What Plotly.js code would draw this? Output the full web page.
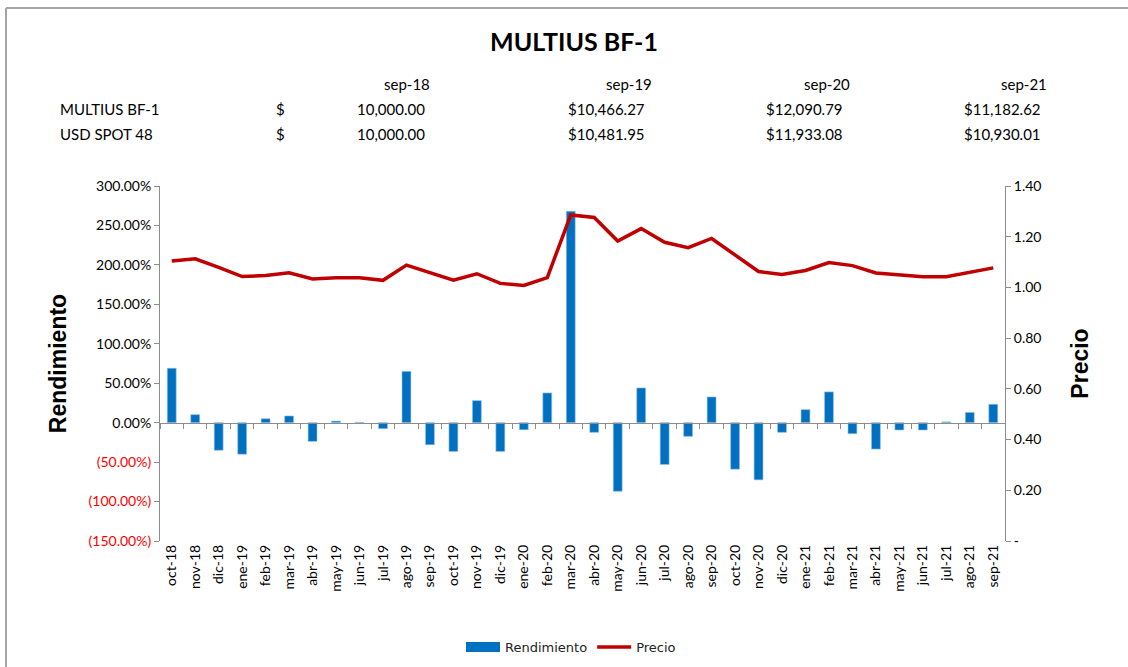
<!DOCTYPE html>
<html>
<head>
<meta charset="utf-8">
<script src="https://cdn.plot.ly/plotly-3.0.1.min.js"></script>
<style>html,body{margin:0;padding:0;background:#fff;}#chart{width:1128px;height:667px;}</style>
</head>
<body>
<div id="chart"></div>
<script>
// ---- Data ----
const months = ['oct-18','nov-18','dic-18','ene-19','feb-19','mar-19','abr-19','may-19','jun-19','jul-19','ago-19','sep-19',
  'oct-19','nov-19','dic-19','ene-20','feb-20','mar-20','abr-20','may-20','jun-20','jul-20','ago-20','sep-20',
  'oct-20','nov-20','dic-20','ene-21','feb-21','mar-21','abr-21','may-21','jun-21','jul-21','ago-21','sep-21'];
// Rendimiento in percent
const rendimiento = [69, 10.2, -35, -40, 5, 8.5, -23.7, 2, 0.5, -7.6, 65, -28,
  -36.5, 28, -36.5, -9, 37.7, 268, -12.3, -87, 44, -53, -17.4, 32.6,
  -59, -72.5, -12.3, 16.5, 39, -14, -33.5, -9.3, -9.3, 1, 13, 23.3];
const precio = [1.104, 1.113, 1.079, 1.043, 1.047, 1.058, 1.033, 1.038, 1.038, 1.028, 1.088, 1.059,
  1.029, 1.054, 1.016, 1.008, 1.039, 1.286, 1.276, 1.183, 1.232, 1.178, 1.157, 1.193,
  1.129, 1.063, 1.051, 1.067, 1.098, 1.086, 1.057, 1.048, 1.042, 1.042, 1.058, 1.077];

const tableDates = ['sep-18','sep-19','sep-20','sep-21'];
const tableNames = ['MULTIUS BF-1','USD SPOT 48'];
const multiusValues = [10000.00, 10466.27, 12090.79, 11182.62];
const usdSpotValues = [10000.00, 10481.95, 11933.08, 10930.01];

const leftTicks = [-150,-100,-50,0,50,100,150,200,250,300];
const rightTicks = [0,0.2,0.4,0.6,0.8,1.0,1.2,1.4];

// ---- Helpers ----
const fmtNum = v => v.toLocaleString('en-US',{minimumFractionDigits:2, maximumFractionDigits:2});
const leftText = leftTicks.map(v => v < 0
  ? '<span style="color:#FF0000">(' + fmtNum(Math.abs(v)) + '%)</span>'
  : fmtNum(v) + '%');
const rightText = rightTicks.map(v => v === 0 ? '-' : v.toFixed(2));

// pixel -> paper helpers (plot area: x 160..1005, y 186..541)
const PL = 160, PR = 1005, PT = 186, PB = 541;
const px = x => (x - PL) / (PR - PL);
const py = y => (PB - y) / (PB - PT);

const FONT = 'Lato, "Noto Sans", sans-serif';
const annotations = [];
const headerRight = [432, 654, 852, 1049];
const valueRight = [427, 647, 845, 1043];
const rowY = [109, 134];
tableDates.forEach((d, i) => annotations.push({
  text: d, xref:'paper', yref:'paper', x: px(headerRight[i]), y: py(84),
  xanchor:'right', yanchor:'middle', showarrow:false, font:{family:FONT, size:15, color:'#000'}
}));
[multiusValues, usdSpotValues].forEach((vals, r) => {
  annotations.push({text: tableNames[r], xref:'paper', yref:'paper', x: px(58), y: py(rowY[r]),
    xanchor:'left', yanchor:'middle', showarrow:false, font:{family:FONT, size:15, color:'#000'}});
  annotations.push({text: '$', xref:'paper', yref:'paper', x: px(280), y: py(rowY[r]),
    xanchor:'center', yanchor:'middle', showarrow:false, font:{family:FONT, size:15, color:'#000'}});
  vals.forEach((v, i) => annotations.push({
    text: (i === 0 ? '' : '$') + fmtNum(v), xref:'paper', yref:'paper', x: px(valueRight[i]), y: py(rowY[r]),
    xanchor:'right', yanchor:'middle', showarrow:false, font:{family:FONT, size:15, color:'#000'}
  }));
});

const traces = [
  {type:'bar', name:'Rendimiento', x: months, y: rendimiento, xaxis:'x', yaxis:'y', showlegend:false,
   marker:{color:'#0070C0', line:{color:'#9DC3E6', width:0.6}}, hoverinfo:'x+y'},
  // legend entry drawn as a wide block like the original legend key
  {type:'scatter', mode:'lines', name:'Rendimiento', x:[null], y:[null], xaxis:'x2', yaxis:'y2',
   line:{color:'#0070C0', width:10}, showlegend:true, hoverinfo:'skip'},
  {type:'scatter', mode:'lines', name:'Precio', x: months, y: precio, xaxis:'x2', yaxis:'y2',
   line:{color:'#C00000', width:3.5}}
];

const axisGray = '#8C8C8C';
const layout = {
  width:1128, height:667,
  margin:{l:PL, r:1128-PR, t:PT, b:667-PB},
  paper_bgcolor:'#fff', plot_bgcolor:'#fff',
  font:{family:FONT, color:'#000'},
  title:{text:'<b>MULTIUS BF-1</b>', font:{family:FONT, size:25, color:'#000'},
    xref:'paper', x: px(574), xanchor:'center', yref:'container', y: 1 - 42/667, yanchor:'middle'},
  bargap:0.62,
  showlegend:true,
  legend:{orientation:'h', xref:'container', x: 571/1128, xanchor:'center', yref:'container', y: 1 - 647/667, yanchor:'middle',
    font:{family:'"DejaVu Sans", sans-serif', size:13, color:'#222'}, itemwidth:34, traceorder:'normal'},
  xaxis:{type:'category', anchor:'free', position: py(423), showline:true, linecolor:axisGray, linewidth:1,
    ticks:'outside', tickson:'boundaries', ticklen:5, tickcolor:axisGray, showticklabels:false,
    showgrid:false, zeroline:false, automargin:false},
  xaxis2:{type:'category', matches:'x', overlaying:'x', anchor:'y', side:'bottom', showline:false,
    ticks:'', showticklabels:true, tickangle:-90, tickfont:{family:FONT, size:14, color:'#000'},
    showgrid:false, zeroline:false, automargin:false},
  yaxis:{range:[-150,300], tickvals:leftTicks, ticktext:leftText, showline:true, linecolor:axisGray,
    ticks:'outside', ticklen:5, tickcolor:axisGray, showgrid:false, zeroline:false, automargin:false,
    tickfont:{family:FONT, size:14, color:'#000'},
    title:{text:'<b>Rendimiento</b>', font:{family:'"Liberation Sans", Arial, sans-serif', size:23, color:'#000'}, standoff:15}},
  yaxis2:{range:[0,1.4], overlaying:'y', side:'right', anchor:'x', tickvals:rightTicks, ticktext:rightText,
    showline:true, linecolor:axisGray, ticks:'outside', ticklen:5, tickcolor:axisGray, showgrid:false, zeroline:false,
    automargin:false, tickfont:{family:FONT, size:14, color:'#000'},
    title:{text:'<b>Precio</b>', font:{family:'"Liberation Sans", Arial, sans-serif', size:23, color:'#000'}, standoff:31}},
  annotations: annotations,
  shapes:[
    {type:'line', xref:'paper', yref:'paper', x0:px(6), x1:px(1200), y0:py(8), y1:py(8),
      line:{color:'#A6A6A6', width:2}, layer:'below'},
    {type:'line', xref:'paper', yref:'paper', x0:px(6), x1:px(6), y0:py(8), y1:py(720),
      line:{color:'#A6A6A6', width:2}, layer:'below'}
  ]
};

Plotly.newPlot('chart', traces, layout, {displayModeBar:false, staticPlot:true});
</script>
</body>
</html>
